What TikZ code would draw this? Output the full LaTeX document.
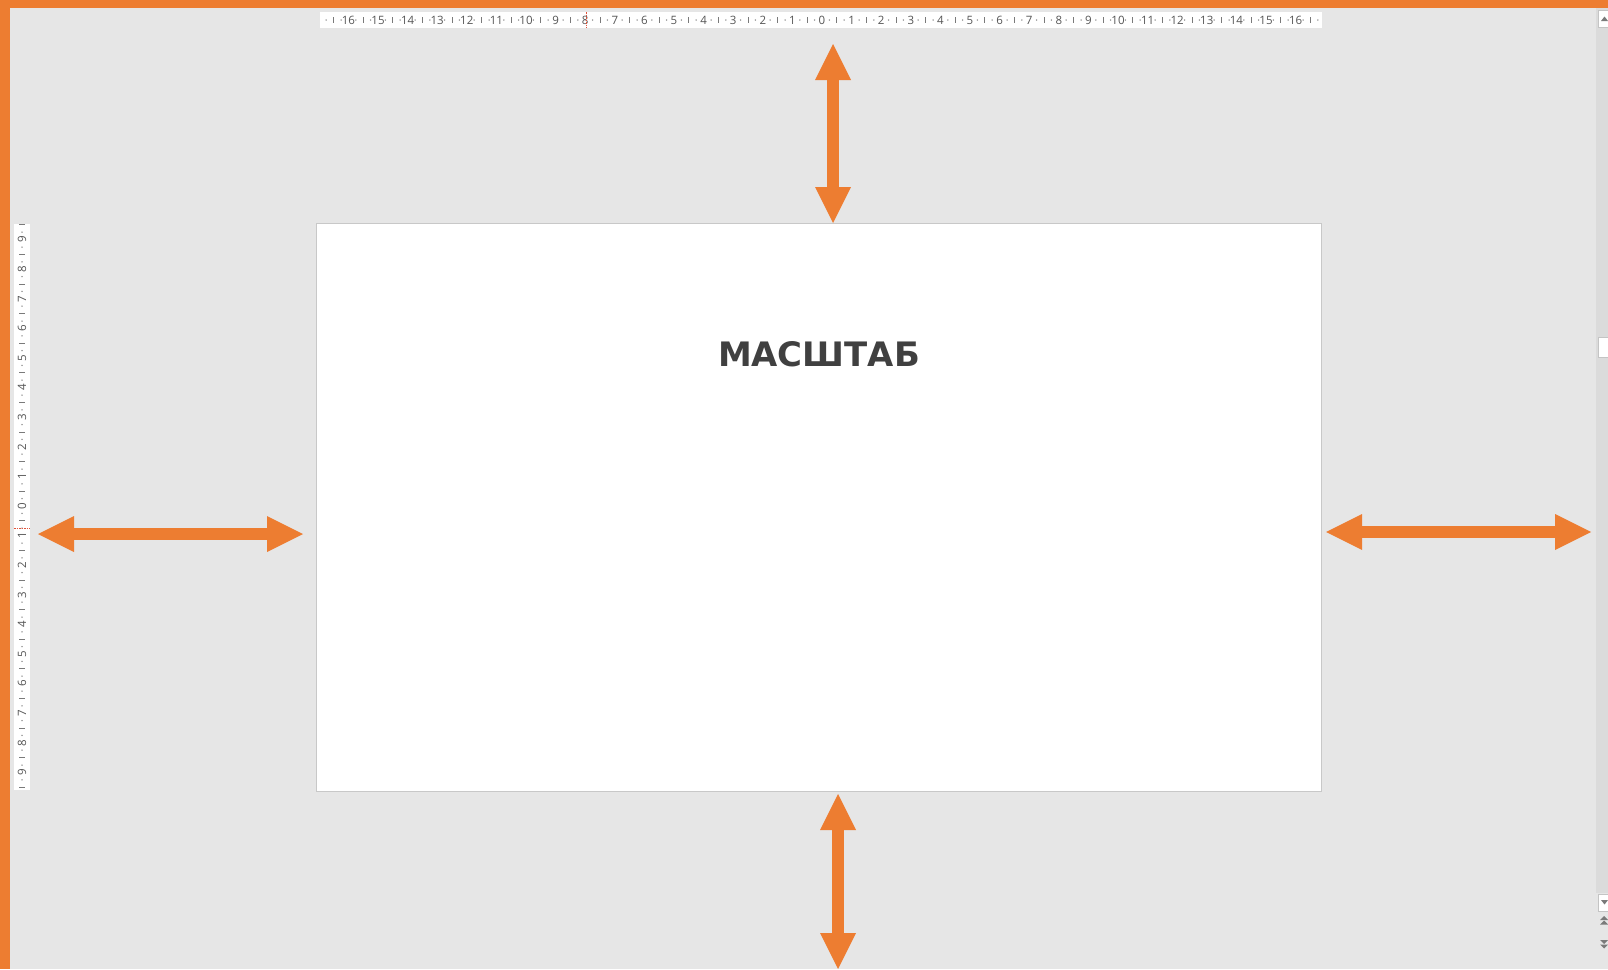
\documentclass[tikz,border=0pt]{standalone}
\usepackage{fontspec}
\setmainfont{Open Sans}
\newfontfamily\titlefont{DejaVu Sans}
\usetikzlibrary{arrows.meta}
\definecolor{orng}{HTML}{ED7D31}
\definecolor{bg}{HTML}{E6E6E6}
\definecolor{slideedge}{HTML}{C8C8C8}
\definecolor{rulertext}{HTML}{555555}
\definecolor{tick}{HTML}{7A7A7A}
\definecolor{marker}{HTML}{E2523A}
\definecolor{titlegray}{HTML}{404040}
\definecolor{sbar}{HTML}{DBDBDB}
\definecolor{sbtn}{HTML}{C4C4C4}
\definecolor{sicon}{HTML}{7A7A7A}
\begin{document}
\begin{tikzpicture}[x=1pt,y=-1pt,
  bigarrow/.style={draw=orng, line width=12pt, line cap=butt,
    {Triangle[length=36pt,width=36pt,line width=0pt]}-{Triangle[length=36pt,width=36pt,line width=0pt]}},
  rulerlabel/.style={text=rulertext, font=\fontsize{11.5}{12}\selectfont, inner sep=0pt},
  tickline/.style={draw=tick, line width=1pt},
  tickdot/.style={fill=tick},
  sbbtn/.style={fill=white, draw=sbtn, line width=0.8pt}]
\useasboundingbox (0,0) rectangle (1608,969);
% background and frame bars
\fill[bg] (0,0) rectangle (1608,969);
\fill[orng] (0,0) rectangle (1608,8);
\fill[orng] (0,0) rectangle (10,969);
% scrollbar
\fill[sbar] (1596,8) rectangle (1608,893);
\draw[sbbtn] (1598,10) rectangle (1610,27);
\fill[sicon] (1601,21) -- (1608,21) -- (1604.5,16.5) -- cycle;
\draw[sbbtn] (1598,337) rectangle (1610,357);
\draw[sbbtn] (1598,894) rectangle (1610,911);
\fill[sicon] (1601,900) -- (1608,900) -- (1604.5,904.5) -- cycle;
\fill[sicon] (1600,920) -- (1608,920) -- (1604,916) -- cycle;
\fill[sicon] (1600,924.5) -- (1608,924.5) -- (1604,920.5) -- cycle;
\fill[sicon] (1600,940) -- (1608,940) -- (1604,944) -- cycle;
\fill[sicon] (1600,944.5) -- (1608,944.5) -- (1604,948.5) -- cycle;
% top ruler
\fill[white] (320,12) rectangle (1322,28);
\foreach \k in {-67,-66,...,67}{
  \pgfmathsetmacro{\xx}{822+29.6*\k/4}
  \pgfmathtruncatemacro{\m}{mod(abs(\k),4)}
  \ifnum\m=2
    \draw[tickline] (\xx,17) -- (\xx,23);
  \else\ifnum\m=0\else
    \fill[tickdot] (\xx,20) circle (0.75);
  \fi\fi
}
\foreach \i in {-16,...,16}{
  \pgfmathtruncatemacro{\a}{abs(\i)}
  \node[rulerlabel] (tl\i) at (822+29.6*\i,20) {\a};
}
\draw[marker, line width=1pt, dash pattern=on 1.5pt off 1pt] (586,12) -- (586,28);
% left ruler
\fill[white] (14,224) rectangle (30,790);
\foreach \k in {-38,-37,...,38}{
  \pgfmathsetmacro{\yy}{506+29.6*\k/4}
  \pgfmathtruncatemacro{\m}{mod(abs(\k),4)}
  \ifnum\m=2
    \draw[tickline] (19,\yy) -- (25,\yy);
  \else\ifnum\m=0\else
    \fill[tickdot] (22,\yy) circle (0.75);
  \fi\fi
}
\foreach \i in {-9,...,9}{
  \pgfmathtruncatemacro{\a}{abs(\i)}
  \node[rulerlabel, rotate=90] (ll\i) at (22,506+29.6*\i) {\a};
}
\draw[marker, line width=1pt, dash pattern=on 1.5pt off 1pt] (14,528) -- (30,528);
% slide
\node[draw=slideedge, fill=white, line width=1pt, minimum width=1005pt, minimum height=568pt, inner sep=0pt, anchor=north west] (slide) at (316,223) {};
\node[text=titlegray, inner sep=0pt] (title) at (819,354.5) {\resizebox{202pt}{25pt}{\titlefont\bfseries МАСШТАБ}};
% arrows
\coordinate (topA) at (833,44);
\coordinate (topB) at (833,223);
\coordinate (botA) at (838,794);
\coordinate (botB) at (838,969);
\coordinate (lefA) at (38,534);
\coordinate (lefB) at (303,534);
\coordinate (rigA) at (1326,532);
\coordinate (rigB) at (1591,532);
\draw[bigarrow] (topA) -- (topB);
\draw[bigarrow] (botA) -- (botB);
\draw[bigarrow] (lefA) -- (lefB);
\draw[bigarrow] (rigA) -- (rigB);
\end{tikzpicture}
\end{document}
